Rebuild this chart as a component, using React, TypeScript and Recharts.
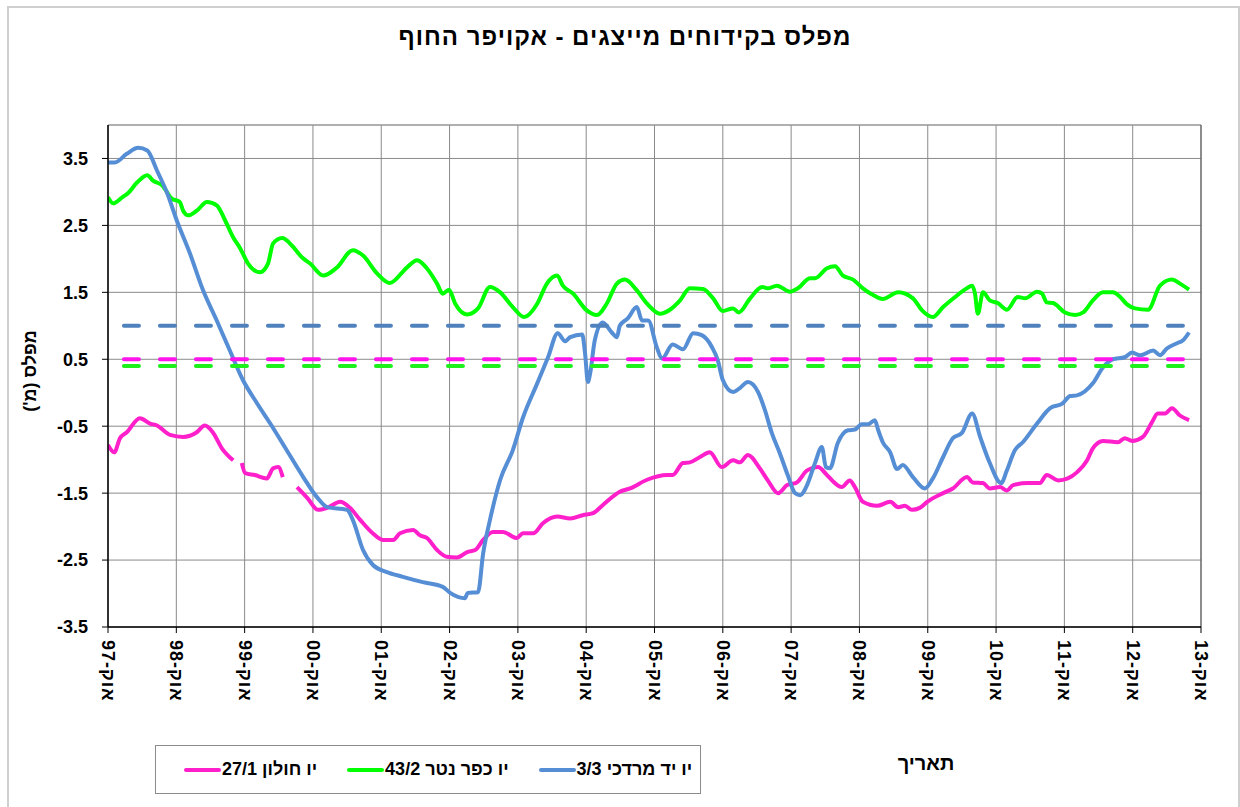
import { CartesianGrid, Legend, Line, LineChart, ReferenceLine, XAxis, YAxis } from "recharts";

const FONT = "'Liberation Sans', Arial, sans-serif";

const PINK = "#FF1FCB";
const PINK_DASH = "#FF14EC";
const GREEN = "#00FF00";
const GREEN_DASH = "#1EF01E";
const BLUE = "#558ED5";
const BLUE_DASH = "#4F81BD";

// x = months since Oct 1997
const YEAR_TICKS = [0, 12, 24, 36, 48, 60, 72, 84, 96, 108, 120, 132, 144, 156, 168, 180, 192];
const LEVEL_TICKS = [-3.5, -2.5, -1.5, -0.5, 0.5, 1.5, 2.5, 3.5];

const SERIES_NAMES = ["יו חולון 27/1", "יו כפר נטר 43/2", "יו יד מרדכי 3/3"];

// 27/1 Holon (null = gap in record)
const HOLON_MONTHS = [
  0, 1.1, 2.1, 3.3, 5.6, 7.4, 8.6, 10.9, 13.2, 15.6, 17, 18.4, 20, 22, 22.8, 23.5, 24.1, 25.8, 27.9, 29, 29.9,
  30.7, 32, 33.2, 35, 36.9, 38.5, 40.8, 42.5, 44.3, 46.5, 48.3, 50.1, 51.3, 53.6, 54.8, 56, 57.8, 59.5, 61.3,
  63.1, 64.5, 65.9, 67.6, 69.4, 71.8, 72.9, 74.7, 76.4, 78.9, 81.2, 83.4, 85.2, 86.9, 89.9, 91.7, 94.7, 98.2,
  99.2, 101, 102.2, 104, 105.7, 107.8, 109.8, 111, 112.4, 114.5, 115.9, 117.7, 119.3, 121, 122.8, 124.7, 126.3,
  127.2, 128.9, 130.3, 131.2, 132.6, 135.1, 137.4, 138.8, 140, 141.2, 142.6, 143.9, 146.7, 148.4, 150.9, 151.9,
  153.7, 154.9, 156.7, 157.9, 159, 161.6, 163.7, 164.9, 166.9, 168.6, 170.2, 172, 173, 174.8, 177.4, 178.6,
  179.9, 181.8, 183.4, 184.4, 185.7, 186.9, 188.3, 189.9,
];
const HOLON_LEVELS = [
  -0.78, -0.89, -0.68, -0.59, -0.38, -0.46, -0.49, -0.63, -0.66, -0.59, -0.49, -0.59, -0.83, -1.01, null, -1.05,
  -1.2, -1.23, -1.28, -1.13, -1.11, -1.26, null, -1.41, -1.57, -1.75, -1.72, -1.63, -1.72, -1.9, -2.1, -2.2, -2.2,
  -2.1, -2.05, -2.13, -2.17, -2.35, -2.45, -2.46, -2.38, -2.35, -2.2, -2.08, -2.08, -2.17, -2.1, -2.1, -1.95,
  -1.85, -1.88, -1.83, -1.8, -1.68, -1.48, -1.43, -1.3, -1.23, -1.23, -1.05, -1.04, -0.96, -0.89, -1.11, -1.01,
  -1.04, -0.93, -1.13, -1.31, -1.5, -1.38, -1.34, -1.16, -1.11, -1.23, -1.31, -1.41, -1.31, -1.41, -1.63, -1.69,
  -1.63, -1.71, -1.69, -1.75, -1.72, -1.63, -1.5, -1.43, -1.26, -1.34, -1.35, -1.43, -1.41, -1.46, -1.38, -1.35,
  -1.35, -1.23, -1.31, -1.28, -1.19, -1.01, -0.83, -0.72, -0.74, -0.68, -0.72, -0.66, -0.44, -0.31, -0.31, -0.23,
  -0.34, -0.41,
];

// 43/2 Kfar Netter
const KFAR_NETTER_MONTHS = [
  0, 0.9, 2.5, 3.5, 5.1, 6.9, 7.9, 9.5, 11.2, 12.6, 13.2, 14.1, 15.6, 17.4, 19.1, 20.6, 22, 23.2, 24.6, 26.7,
  28.1, 29, 30.6, 32.3, 34.1, 35.5, 37.8, 40.2, 43, 44.8, 47.3, 49.5, 52.5, 54.3, 56, 57.8, 58.8, 59.9, 61, 63.1,
  65, 67.1, 68.9, 71.1, 73.1, 75.4, 77.1, 78.9, 79.9, 81.7, 84.1, 85.9, 87.6, 89.4, 90.8, 92.9, 94.7, 97, 98.7,
  100.5, 102.2, 104.5, 106.3, 108, 109.8, 110.8, 112.8, 114.9, 115.9, 117.5, 119.8, 121.2, 123.3, 124.2, 126.3,
  127.7, 129.1, 130.9, 132.6, 134.4, 136.1, 138.8, 141.4, 143, 144.9, 146.7, 148.8, 150.5, 151.8, 152.3, 152.8,
  153.7, 154.9, 156.3, 157.9, 159.8, 161.1, 163.2, 164.1, 164.9, 166, 168.1, 169.9, 171.3, 173, 174.8, 176.5,
  177.8, 179, 180.4, 182.7, 184.8, 186.9, 188.3, 189.9,
];
const KFAR_NETTER_LEVELS = [
  2.92, 2.83, 2.92, 2.98, 3.14, 3.25, 3.17, 3.1, 2.9, 2.85, 2.72, 2.65, 2.72, 2.85, 2.8, 2.57, 2.32, 2.16, 1.93,
  1.8, 1.93, 2.23, 2.31, 2.2, 2.02, 1.93, 1.75, 1.87, 2.13, 2.05, 1.78, 1.64, 1.87, 1.98, 1.86, 1.63, 1.48, 1.54,
  1.33, 1.17, 1.26, 1.58, 1.5, 1.28, 1.13, 1.33, 1.63, 1.75, 1.6, 1.48, 1.23, 1.16, 1.33, 1.63, 1.69, 1.53, 1.33,
  1.18, 1.24, 1.38, 1.56, 1.55, 1.41, 1.22, 1.26, 1.2, 1.41, 1.58, 1.56, 1.6, 1.51, 1.56, 1.71, 1.71, 1.86, 1.89,
  1.75, 1.69, 1.56, 1.46, 1.4, 1.5, 1.41, 1.23, 1.13, 1.28, 1.43, 1.54, 1.6, 1.48, 1.18, 1.5, 1.38, 1.34, 1.24,
  1.43, 1.41, 1.51, 1.48, 1.35, 1.34, 1.2, 1.16, 1.2, 1.38, 1.5, 1.5, 1.43, 1.32, 1.26, 1.24, 1.6, 1.69, 1.63,
  1.54,
];

// 3/3 Yad Mordechai
const YAD_MORDECHAI_MONTHS = [
  0, 1.2, 3.3, 5.3, 6.9, 8.6, 10.4, 12.1, 14.4, 16.7, 19.1, 21.4, 23.7, 26.2, 28.5, 31.4, 34.3, 36.7, 38.5, 42,
  43, 44.8, 46.5, 49, 51.8, 55.3, 58.8, 60.1, 62.7, 63.2, 65, 65.9, 67.1, 68.9, 71.1, 72.9, 75.4, 77.3, 79, 80.3,
  81.2, 83.3, 83.8, 84.3, 84.7, 85.5, 86.9, 88.5, 89.4, 89.9, 91.3, 92.9, 93.8, 94.9, 96.4, 97.3, 99.2, 101,
  102.8, 104.3, 106.1, 107.1, 108, 109.8, 111, 112.4, 114.2, 115.4, 116.6, 118, 119.4, 120.7, 121.6, 122.8,
  124.2, 125.4, 126.1, 126.8, 128.2, 130, 131.2, 132.4, 133.5, 134.7, 135.3, 136.1, 137.4, 138.6, 139.6, 141.4,
  143.5, 144.9, 146.7, 148.4, 150, 151.8, 153.2, 154.9, 156.9, 157.9, 159.3, 160.7, 163.2, 165.5, 167.7, 169,
  170.2, 173, 174.8, 176.5, 178.6, 179.9, 181.3, 183.6, 184.8, 186, 187.8, 188.8, 189.9,
];
const YAD_MORDECHAI_LEVELS = [
  3.44, 3.44, 3.57, 3.66, 3.62, 3.32, 2.98, 2.57, 2.08, 1.53, 1.08, 0.63, 0.19, -0.16, -0.46, -0.86, -1.26, -1.56,
  -1.71, -1.75, -1.9, -2.35, -2.57, -2.68, -2.75, -2.83, -2.9, -2.99, -3.07, -2.99, -2.98, -2.4, -1.9, -1.3,
  -0.86, -0.37, 0.14, 0.53, 0.89, 0.77, 0.83, 0.87, 0.59, 0.16, 0.29, 0.78, 1.05, 0.9, 0.83, 1.0, 1.11, 1.28,
  1.08, 1.08, 0.68, 0.51, 0.72, 0.65, 0.89, 0.86, 0.68, 0.49, 0.19, 0.01, 0.07, 0.16, 0.01, -0.26, -0.6, -0.9,
  -1.23, -1.5, -1.53, -1.38, -1.05, -0.81, -1.11, -1.13, -0.75, -0.56, -0.55, -0.47, -0.47, -0.41, -0.56, -0.74,
  -0.89, -1.14, -1.08, -1.26, -1.43, -1.28, -0.96, -0.68, -0.6, -0.31, -0.66, -1.05, -1.35, -1.16, -0.86, -0.74,
  -0.46, -0.23, -0.16, -0.05, -0.04, 0.14, 0.38, 0.5, 0.53, 0.6, 0.56, 0.63, 0.56, 0.66, 0.74, 0.78, 0.9,
];

// threshold levels (dashed)
const THRESHOLD_MONTHS = [2.8, 192];
const YAD_MORDECHAI_THRESHOLD = [1.0, 1.0];
const HOLON_THRESHOLD = [0.5, 0.5];
const KFAR_NETTER_THRESHOLD = [0.4, 0.4];

const toRows = (months: number[], levels: (number | null)[]) => months.map((m, i) => ({ m, v: levels[i] }));

const holonData = toRows(HOLON_MONTHS, HOLON_LEVELS);
const kfarNetterData = toRows(KFAR_NETTER_MONTHS, KFAR_NETTER_LEVELS);
const yadMordechaiData = toRows(YAD_MORDECHAI_MONTHS, YAD_MORDECHAI_LEVELS);

const monthLabel = (m: number) => `אוק-${String((97 + m / 12) % 100).padStart(2, "0")}`;

function MonthTick({ x, y, payload }: any) {
  return (
    <text
      x={x}
      y={y}
      transform={`rotate(90 ${x} ${y})`}
      textAnchor="start"
      dominantBaseline="central"
      fontFamily={FONT}
      fontWeight="bold"
      fontSize={18}
      letterSpacing={1}
      fill="#000"
    >
      {monthLabel(payload.value)}
    </text>
  );
}

function LegendBox({ payload }: any) {
  const items = (payload ?? [])
    .filter((p: any) => SERIES_NAMES.includes(p.value))
    .sort((a: any, b: any) => SERIES_NAMES.indexOf(a.value) - SERIES_NAMES.indexOf(b.value));
  return (
    <div
      style={{
        boxSizing: "border-box",
        width: 546,
        height: 49,
        border: "1px solid #8c8c8c",
        background: "#fff",
        display: "flex",
        alignItems: "center",
        paddingLeft: 28,
        gap: 30,
        fontFamily: FONT,
        fontWeight: "bold",
        fontSize: 18,
      }}
    >
      {items.map((p: any) => (
        <div key={p.value} style={{ display: "flex", alignItems: "center" }}>
          <span style={{ width: 37, height: 4, borderRadius: 2, background: p.color, marginRight: 1 }} />
          <span style={{ direction: "rtl", color: "#000" }}>{p.value}</span>
        </div>
      ))}
    </div>
  );
}

export default function App() {
  return (
    <div style={{ position: "absolute", left: 0, top: 0, width: 1240, height: 807, background: "#fff", overflow: "hidden" }}>
      <div
        style={{
          position: "absolute",
          left: 7,
          top: 6,
          width: 1229,
          height: 820,
          border: "2px solid #cfcfcf",
        }}
      />
      <div
        style={{
          position: "absolute",
          left: 0,
          top: 23,
          width: 1250,
          textAlign: "center",
          direction: "rtl",
          fontFamily: FONT,
          fontWeight: "bold",
          fontSize: 24,
          letterSpacing: 1,
          color: "#000",
        }}
      >
        מפלס בקידוחים מייצגים - אקויפר החוף
      </div>
      <div
        style={{
          position: "absolute",
          left: 876,
          top: 752,
          width: 100,
          textAlign: "center",
          direction: "rtl",
          fontFamily: FONT,
          fontWeight: "bold",
          fontSize: 20,
          color: "#000",
        }}
      >
        תאריך
      </div>
      <div style={{ position: "absolute", left: 0, top: 0 }}>
        <LineChart width={1240} height={807} margin={{ top: 125, right: 39, bottom: 120, left: 8 }}>
          <CartesianGrid stroke="#8a8a8a" strokeWidth={1} />
          <XAxis
            dataKey="m"
            type="number"
            domain={[0, 192]}
            ticks={YEAR_TICKS}
            interval={0}
            height={60}
            allowDataOverflow
            axisLine={{ stroke: "#000", strokeWidth: 1.5 }}
            tickLine={{ stroke: "#000" }}
            tickSize={6}
            tickMargin={7}
            tick={<MonthTick />}
          />
          <YAxis
            type="number"
            domain={[-3.5, 4]}
            ticks={LEVEL_TICKS}
            interval={0}
            width={100}
            allowDataOverflow
            axisLine={{ stroke: "#000", strokeWidth: 1.5 }}
            tickLine={{ stroke: "#000" }}
            tickSize={6}
            tickMargin={14}
            tick={{ fontFamily: FONT, fontWeight: "bold", fontSize: 18, fill: "#000" }}
            label={{
              value: "מפלס (מ')",
              angle: -90,
              position: "insideLeft",
              offset: 22,
              dy: -5,
              style: { fontFamily: FONT, fontWeight: "bold", fontSize: 18, fill: "#000", direction: "rtl", textAnchor: "middle" },
            }}
          />
          <ReferenceLine y={4} stroke="#9a9a9a" />
          <ReferenceLine x={192} stroke="#555" />
          <Line
            data={holonData}
            dataKey="v"
            name={SERIES_NAMES[0]}
            stroke={PINK}
            strokeWidth={4}
            type="monotone"
            dot={false}
            connectNulls={false}
            isAnimationActive={false}
          />
          <Line
            data={kfarNetterData}
            dataKey="v"
            name={SERIES_NAMES[1]}
            stroke={GREEN}
            strokeWidth={4}
            type="monotone"
            dot={false}
            isAnimationActive={false}
          />
          <Line
            data={yadMordechaiData}
            dataKey="v"
            name={SERIES_NAMES[2]}
            stroke={BLUE}
            strokeWidth={4}
            type="monotone"
            dot={false}
            isAnimationActive={false}
          />
          <Line
            data={toRows(THRESHOLD_MONTHS, YAD_MORDECHAI_THRESHOLD)}
            dataKey="v"
            name="threshold 3/3"
            stroke={BLUE_DASH}
            strokeWidth={4}
            strokeDasharray="15 21"
            strokeLinecap="round"
            dot={false}
            legendType="none"
            isAnimationActive={false}
          />
          <Line
            data={toRows(THRESHOLD_MONTHS, HOLON_THRESHOLD)}
            dataKey="v"
            name="threshold 27/1"
            stroke={PINK_DASH}
            strokeWidth={4}
            strokeDasharray="15 21"
            strokeLinecap="round"
            dot={false}
            legendType="none"
            isAnimationActive={false}
          />
          <Line
            data={toRows(THRESHOLD_MONTHS, KFAR_NETTER_THRESHOLD)}
            dataKey="v"
            name="threshold 43/2"
            stroke={GREEN_DASH}
            strokeWidth={4}
            strokeDasharray="15 21"
            strokeLinecap="round"
            dot={false}
            legendType="none"
            isAnimationActive={false}
          />
          <Legend
            layout="horizontal"
            verticalAlign="middle"
            align="center"
            content={<LegendBox />}
            wrapperStyle={{ left: 155, top: 745, width: 546, height: 49 }}
          />
        </LineChart>
      </div>
    </div>
  );
}
